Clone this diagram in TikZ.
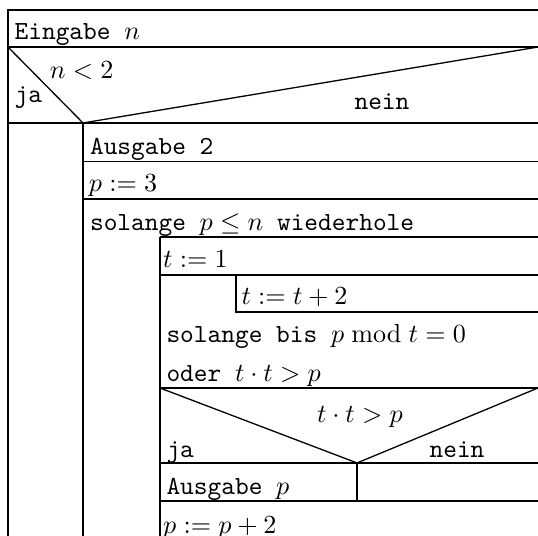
\documentclass[tikz,border=0pt]{standalone}
\usepackage{amsmath,amssymb}
\usepackage{tikz}

\tikzset{
  linie/.style={line width=0.5pt},
  dicklinie/.style={line width=0.8pt},
  zeile/.style={anchor=base west, inner sep=0pt, font=\ttfamily},
  mitte/.style={anchor=base, inner sep=0pt, font=\ttfamily},
}

\begin{document}
\begin{tikzpicture}
    \useasboundingbox (0,0) rectangle (7.241,-7.214);

    % Coordinates
    \coordinate (ObenLinks) at (0.108,-0.135);
    \coordinate (ObenRechts) at (7.241,-0.135);
    \coordinate (UntenLinks) at (0.108,-7.214);
    \coordinate (Spitze1) at (1.117,-1.655);
    \coordinate (Spitze2) at (4.805,-6.231);

    % Outer frame (open to the right and to the bottom)
    \draw[linie] (ObenRechts) -- (ObenLinks) -- (UntenLinks);
    \node[zeile] (eingabe) at (0.19,-0.525) {Eingabe $n$};
    \draw[dicklinie] (0.108,-0.633) -- (7.241,-0.633);

    % --- Decision n < 2 ---
    \draw[linie] (0.108,-0.633) -- (Spitze1) -- (7.241,-0.633);
    \draw[linie] (0.108,-1.655) -- (7.241,-1.655);
    \node[mitte] (bed1) at (1.10,-1.063) {$n<2$};
    \node[zeile] (ja1) at (0.19,-1.373) {ja};
    \node[mitte] (nein1) at (5.141,-1.48) {nein};
    \draw[linie] (Spitze1) -- (1.117,-7.214);

    % --- nein branch ---
    \node[zeile] (ausgabe2) at (1.205,-2.086) {Ausgabe 2};
    \draw[linie] (1.117,-2.176) -- (7.241,-2.176);
    \node[zeile] (p3) at (1.19,-2.584) {$p:=3$};
    \draw[linie] (1.117,-2.678) -- (7.241,-2.678);
    \node[zeile] (solange) at (1.205,-3.096) {solange $p\leq n$ wiederhole};
    \draw[linie] (2.153,-3.19) -- (7.241,-3.19);
    \draw[linie] (2.153,-3.19) -- (2.153,-7.214);

    % --- Loop body ---
    \node[zeile] (t1) at (2.19,-3.607) {$t:=1$};
    \draw[dicklinie] (2.153,-3.701) -- (7.241,-3.701);
    \draw[linie] (3.176,-3.701) -- (3.176,-4.199) -- (7.241,-4.199);
    \node[zeile] (t2) at (3.244,-4.105) {$t:=t+2$};
    \node[zeile] (bis) at (2.234,-4.616) {solange bis $p \bmod t = 0$};
    \node[zeile] (oder) at (2.234,-5.128) {oder $t\cdot t>p$};
    \draw[dicklinie] (2.153,-5.222) -- (7.241,-5.222);

    % --- Decision t*t > p ---
    \draw[linie] (2.153,-5.222) -- (Spitze2) -- (7.241,-5.222);
    \node[mitte] (bed2) at (4.845,-5.693) {$t\cdot t>p$};
    \node[zeile] (ja2) at (2.234,-6.151) {ja};
    \node[mitte] (nein2) at (6.151,-6.164) {nein};
    \draw[dicklinie] (2.153,-6.231) -- (7.241,-6.231);
    \draw[linie] (Spitze2) -- (4.805,-6.743);
    \node[zeile] (ausgabep) at (2.234,-6.662) {Ausgabe $p$};
    \draw[linie] (2.153,-6.743) -- (7.241,-6.743);
    \node[zeile] (pp2) at (2.19,-7.174) {$p:=p+2$};

\end{tikzpicture}
\end{document}
